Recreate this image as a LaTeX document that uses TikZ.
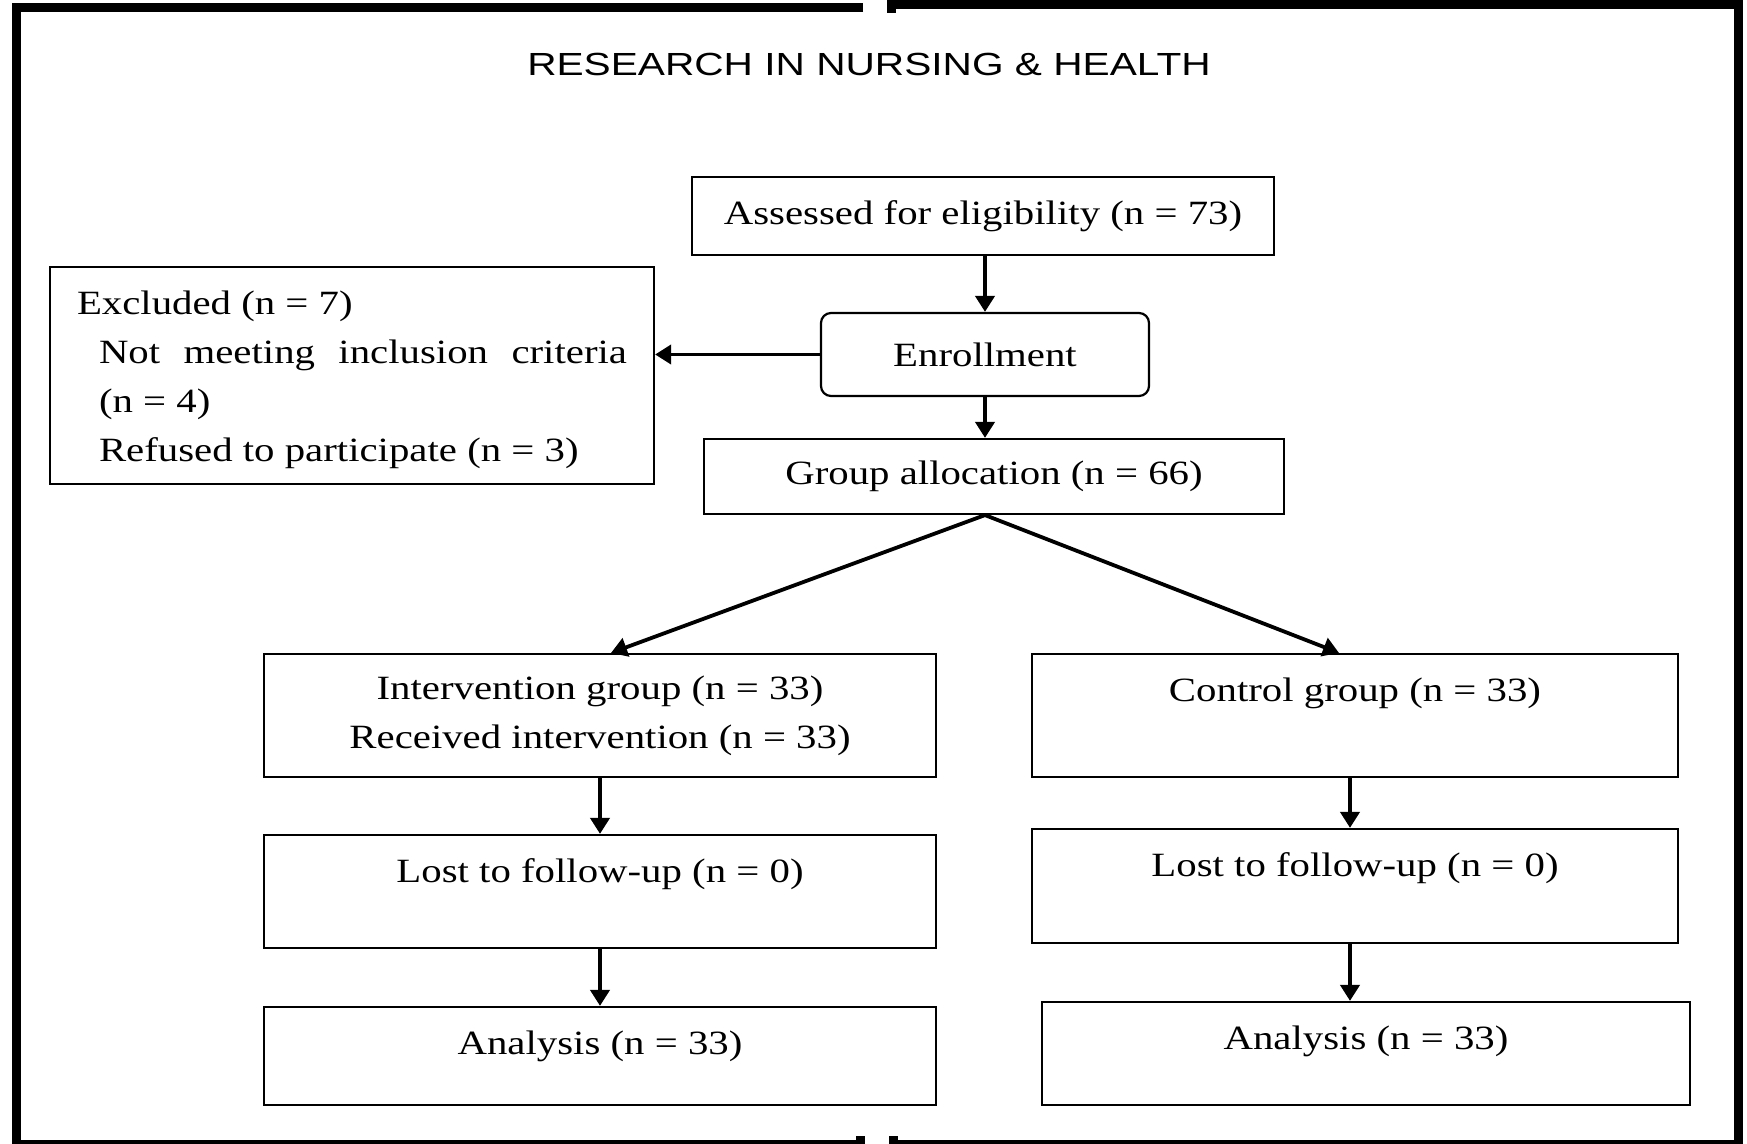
\documentclass[tikz,border=0pt]{standalone}
\usepackage{fontspec}
\setmainfont{Liberation Serif}[FakeStretch=1.2]
\newfontfamily\titlefont{Liberation Sans}[FakeStretch=1.27]
\usetikzlibrary{arrows.meta,positioning}

\tikzset{
  box/.style={draw, line width=1.1pt, inner xsep=0pt, font=\fontsize{17}{24.5}\selectfont},
  topbox/.style={box, inner ysep=0pt, text height=23.6pt},
  arr/.style={line width=2.3pt, -{Triangle[length=8pt,width=9.5pt]}},
  frame/.style={line width=4.5pt},
}

\begin{document}
\begin{tikzpicture}[x=0.5pt, y=-0.5pt]
    \useasboundingbox (0,0) rectangle (1747,1144);
    % Outer frame, open in the middle
    \draw[frame] (863,8) -- (16,8) -- (16,1144) -- (860,1144) -- (860,1136);
    \draw[frame] (891,13) -- (891,5) -- (1738,5) -- (1738,1144) -- (893,1144) -- (893,1136);
    \node[font=\titlefont\fontsize{16}{19}\selectfont] (title) at (869,64) {RESEARCH IN NURSING \& HEALTH};

    % Enrollment part
    \node[box, minimum width=291pt, minimum height=39pt] (assess) at (983,216) {Assessed for eligibility (n = 73)};
    \node[box, rounded corners=5pt, minimum width=164pt, minimum height=41.5pt] (enr) at (985,354.5) {Enrollment};
    \node[box, align=left, minimum width=302pt, minimum height=108.5pt] (excl) at (352,375.5)
        {\rule{0pt}{16pt}Excluded (n = 7)\\
         \hspace*{11pt}\makebox[264pt][s]{Not meeting inclusion criteria}\\
         \hspace*{11pt}(n = 4)\\
         \hspace*{11pt}Refused to participate (n = 3)};
    \node[box, minimum width=290pt, minimum height=37.5pt] (grp) at (994,476.5) {Group allocation (n = 66)};

    % Two arms
    \node[box, align=center, minimum width=336pt, minimum height=61.5pt] (int) at (600,715.5)
        {Intervention group (n = 33)\\ Received intervention (n = 33)};
    \node[topbox, minimum width=323pt, minimum height=61.5pt, text depth=37.9pt] (ctrl) at (1355,715.5) {Control group (n = 33)};
    \node[topbox, minimum width=336pt, minimum height=56.5pt, text depth=32.9pt] (lostL) at (600,891.5) {Lost to follow-up (n = 0)};
    \node[topbox, minimum width=323pt, minimum height=57pt, text depth=33.4pt] (lostR) at (1355,886) {Lost to follow-up (n = 0)};
    \node[topbox, minimum width=336pt, minimum height=49pt, text depth=25.4pt] (anaL) at (600,1056) {Analysis (n = 33)};
    \node[topbox, minimum width=324pt, minimum height=51.5pt, text depth=27.9pt] (anaR) at (1366,1053.5) {Analysis (n = 33)};

    % Connectors
    \draw[arr] (enr.north |- assess.south) -- (enr.north);
    \draw[arr, line width=1.9pt] (enr.west) -- (enr.west -| excl.east);
    \draw[arr] (enr.south) -- (enr.south |- grp.north);
    \coordinate (split) at (enr.south |- grp.south);
    \draw[arr, line width=1.9pt] (split) -- ([xshift=5.5pt]int.north);
    \draw[arr, line width=1.9pt] (split) -- ([xshift=-8pt]ctrl.north);
    \draw[arr] (int.south) -- (lostL.north);
    \draw[arr] ([xshift=-2.5pt]ctrl.south) -- ([xshift=-2.5pt]ctrl.south |- lostR.north);
    \draw[arr] (lostL.south) -- (anaL.north);
    \draw[arr] ([xshift=-2.5pt]lostR.south) -- ([xshift=-2.5pt]lostR.south |- anaR.north);
\end{tikzpicture}
\end{document}
